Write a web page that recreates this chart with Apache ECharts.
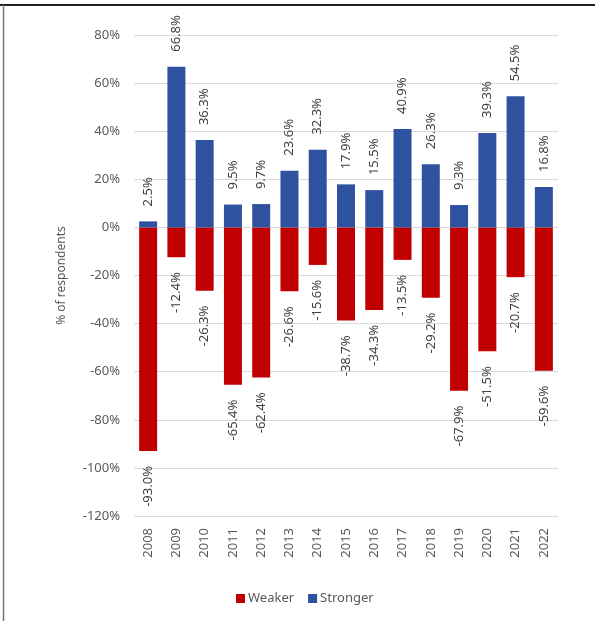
<!DOCTYPE html>
<html>
<head>
<meta charset="utf-8">
<script src="https://cdn.jsdelivr.net/npm/echarts@6/dist/echarts.min.js"></script>
<style>
html,body{margin:0;padding:0;background:#fff;}
#chart{width:595px;height:621px;}
</style>
</head>
<body>
<div id="chart"></div>
<script>
const years = ['2008','2009','2010','2011','2012','2013','2014','2015','2016','2017','2018','2019','2020','2021','2022'];
const weaker = [-93.0,-12.4,-26.3,-65.4,-62.4,-26.6,-15.6,-38.7,-34.3,-13.5,-29.2,-67.9,-51.5,-20.7,-59.6];
const stronger = [2.5,66.8,36.3,9.5,9.7,23.6,32.3,17.9,15.5,40.9,26.3,9.3,39.3,54.5,16.8];
const yMin = -120, yMax = 80, yStep = 20;
const yAxisName = '% of respondents';
const seriesNames = ['Weaker','Stronger'];

const FONT = 'Noto Sans';
const chart = echarts.init(document.getElementById('chart'));
const fmt = p => p.value.toFixed(1) + '%';
chart.setOption({
  animation: false,
  textStyle: {fontFamily: FONT},
  grid: {left: 134, right: 37, top: 35, bottom: 105},
  legend: {
    data: seriesNames,
    left: 231, top: 587,
    itemWidth: 9, itemHeight: 9, itemGap: 14,
    icon: 'rect',
    textStyle: {fontFamily: FONT, fontSize: 13, color: '#595959', padding: [0,0,0,-2]}
  },
  xAxis: {
    type: 'category',
    data: years,
    axisLine: {show: false},
    axisTick: {show: false},
    axisLabel: {rotate: 90, margin: 12, fontSize: 13, color: '#595959', fontFamily: FONT}
  },
  yAxis: {
    type: 'value',
    min: yMin, max: yMax, interval: yStep,
    name: yAxisName,
    nameLocation: 'middle',
    nameGap: 66,
    nameRotate: 90,
    nameTextStyle: {fontSize: 12, color: '#595959', fontFamily: FONT},
    axisLine: {show: false},
    axisTick: {show: false},
    splitLine: {lineStyle: {color: '#d9d9d9', width: 1}},
    axisLabel: {formatter: '{value}%', margin: 14, fontSize: 13, color: '#595959', fontFamily: FONT}
  },
  series: [
    {
      name: seriesNames[0], type: 'bar', data: weaker, barWidth: 18, barGap: '-100%',
      itemStyle: {color: '#C00000'},
      label: {show: true, position: 'bottom', distance: 15, rotate: 90, align: 'right', verticalAlign: 'middle',
        formatter: fmt, fontSize: 13, color: '#404040', fontFamily: FONT}
    },
    {
      name: seriesNames[1], type: 'bar', data: stronger, barWidth: 18, barGap: '-100%',
      itemStyle: {color: '#2F52A0'},
      label: {show: true, position: 'top', distance: 15, rotate: 90, align: 'left', verticalAlign: 'middle',
        formatter: fmt, fontSize: 13, color: '#404040', fontFamily: FONT}
    }
  ],
  graphic: [
    {type: 'line', shape: {x1: 0, y1: 5, x2: 595, y2: 5}, style: {stroke: '#222', lineWidth: 2}},
    {type: 'line', shape: {x1: 3.5, y1: 5, x2: 3.5, y2: 621}, style: {stroke: '#777', lineWidth: 1.5}}
  ]
});
</script>
</body>
</html>
